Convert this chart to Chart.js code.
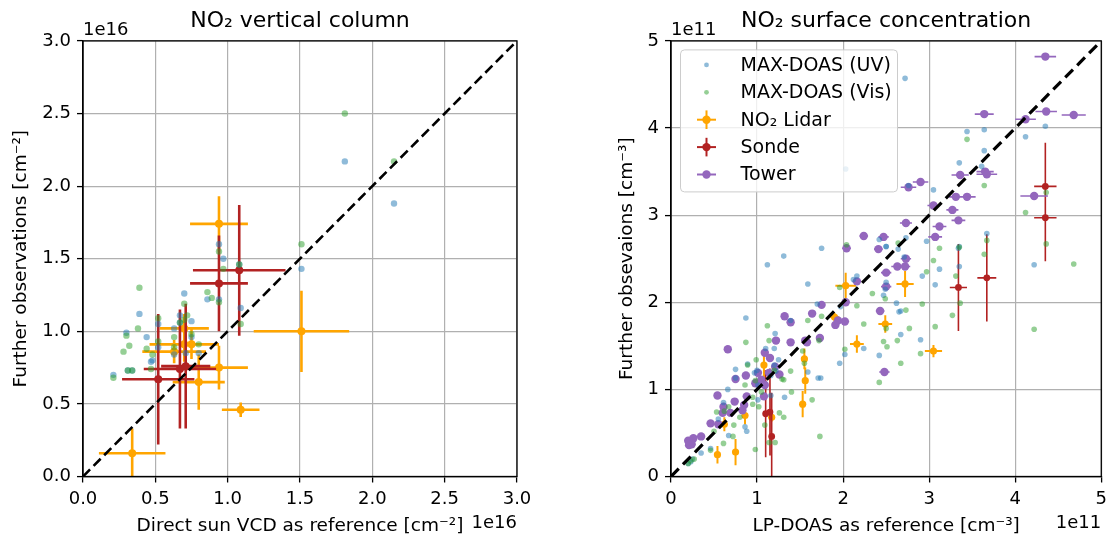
<!DOCTYPE html>
<html>
<head>
<meta charset="utf-8">
<title>NO2 comparison</title>
<script src="https://cdn.jsdelivr.net/npm/chart.js@4.4.1/dist/chart.umd.min.js"></script>
<style>
  html, body { margin: 0; padding: 0; background: #fff; }
  #wrap { position: relative; width: 1113px; height: 537px; overflow: hidden; }
  canvas { position: absolute; top: 0; }
  #vcdChart { left: 0; }
  #surfChart { left: 606px; }
</style>
</head>
<body>
<div id="wrap">
  <canvas id="vcdChart" width="560" height="537"></canvas>
  <canvas id="surfChart" width="507" height="537"></canvas>
</div>
<script>
// Left panel: vertical columns, units of 1e16 cm-2
const vcdTicks = [0, 0.5, 1.0, 1.5, 2.0, 2.5, 3.0];
const vcdUV = [
  [0.21, 0.70], [0.30, 0.99], [0.39, 1.12], [0.44, 0.96], [0.47, 0.79], [0.48, 0.80],
  [0.34, 0.73], [0.31, 0.73], [0.52, 1.05], [0.52, 0.89], [0.63, 0.84], [0.63, 1.02],
  [0.67, 1.11], [0.70, 1.26], [0.75, 1.07], [0.75, 0.96], [0.86, 1.22], [0.94, 1.60],
  [0.97, 1.50], [0.94, 1.22], [1.09, 1.16], [1.08, 1.46], [1.51, 1.43], [1.81, 2.17],
  [2.15, 1.88], [0.80, 0.85], [0.71, 0.85], [0.67, 1.06]
];
const vcdVis = [
  [0.21, 0.68], [0.30, 0.97], [0.32, 0.90], [0.28, 0.86], [0.39, 1.30], [0.38, 1.02],
  [0.34, 0.73], [0.31, 0.73], [0.44, 0.88], [0.47, 0.74], [0.48, 0.84], [0.52, 1.09],
  [0.52, 0.93], [0.63, 0.96], [0.63, 0.89], [0.70, 1.19], [0.72, 1.11], [0.75, 0.98],
  [0.80, 0.91], [0.86, 1.27], [0.89, 1.23], [0.94, 1.55], [0.94, 1.20], [0.97, 1.43],
  [1.08, 1.46], [1.09, 1.05], [1.51, 1.60], [1.81, 2.50], [2.15, 2.17], [0.67, 1.06],
  [0.70, 1.08]
];
// [x, y, xErr, yErr]
const vcdLidar = [
  [0.94, 1.74, 0.20, 0.19], [1.51, 1.00, 0.33, 0.28], [0.70, 1.02, 0.17, 0.10],
  [0.63, 0.86, 0.22, 0.08], [0.70, 0.91, 0.24, 0.12], [0.75, 0.91, 0.05, 0.10],
  [0.94, 0.75, 0.20, 0.15], [0.80, 0.65, 0.18, 0.19], [1.09, 0.46, 0.13, 0.05],
  [0.34, 0.16, 0.23, 0.17]
];
const vcdSonde = [
  [1.08, 1.42, 0.32, 0.45], [0.94, 1.33, 0.20, 0.33], [0.52, 0.67, 0.25, 0.45],
  [0.67, 0.74, 0.25, 0.41], [0.71, 0.76, 0.17, 0.43]
];

// Right panel: surface concentrations, units of 1e11 cm-3
const surfTicks = [0, 1, 2, 3, 4, 5];
const surfUV = [
  [2.72, 4.57], [2.03, 3.53], [3.44, 3.96], [3.64, 3.98], [4.12, 3.90], [4.35, 4.02],
  [3.64, 3.74], [3.35, 3.60], [3.61, 3.56], [2.76, 3.34], [3.05, 3.29], [3.34, 2.62],
  [3.67, 2.79], [2.73, 2.74], [2.97, 2.70], [2.64, 2.61], [1.75, 2.62], [1.31, 2.53],
  [1.12, 2.43], [2.50, 2.64], [3.12, 2.38], [3.35, 2.41], [2.92, 2.30], [2.12, 2.26],
  [2.16, 2.30], [2.50, 2.23], [1.59, 2.21], [4.22, 2.43], [3.07, 2.20], [2.62, 1.99],
  [2.67, 1.90], [2.90, 1.57], [2.67, 1.63], [2.42, 1.39], [2.24, 1.47], [1.96, 1.30],
  [2.02, 1.40], [0.87, 1.82], [1.21, 1.64], [1.39, 1.79], [1.10, 1.47], [1.74, 1.13],
  [1.59, 1.20], [1.32, 0.91], [1.20, 1.28], [0.66, 1.00], [0.75, 1.23], [0.89, 1.29],
  [0.97, 1.19], [1.01, 0.88], [0.88, 0.52], [0.86, 0.57], [0.67, 0.47], [0.55, 0.66],
  [0.35, 0.27], [0.25, 0.20], [0.20, 0.15], [0.46, 0.32], [1.70, 1.98], [2.42, 2.72],
  [2.47, 2.08], [2.49, 2.15], [1.20, 1.47], [1.22, 1.21], [1.16, 1.16], [1.16, 0.93],
  [0.61, 0.85], [0.75, 1.13], [1.00, 1.22], [1.01, 1.05], [2.65, 1.89], [1.97, 1.95],
  [2.50, 2.64], [0.23, 0.17], [1.25, 1.34], [3.35, 2.64], [2.71, 2.52], [1.71, 1.13]
];
const surfVis = [
  [3.44, 3.87], [3.64, 3.34], [4.12, 3.03], [4.36, 3.26], [4.36, 2.67], [4.68, 2.44],
  [4.22, 1.69], [3.67, 2.71], [3.64, 2.55], [3.36, 1.99], [3.31, 2.30], [3.12, 2.62],
  [3.05, 2.48], [3.27, 1.85], [3.07, 1.72], [2.64, 2.68], [2.04, 2.66], [2.97, 2.35],
  [2.92, 1.98], [2.90, 1.41], [2.73, 1.91], [2.77, 1.70], [2.63, 1.56], [2.67, 1.30],
  [2.51, 1.49], [2.49, 2.04], [2.34, 2.10], [2.42, 1.08], [2.16, 1.96], [2.24, 1.75],
  [1.96, 2.17], [2.02, 1.46], [1.75, 1.84], [1.64, 0.88], [1.73, 0.46], [1.53, 1.44],
  [1.59, 1.79], [1.39, 1.21], [1.31, 1.11], [1.12, 1.73], [0.87, 1.54], [0.99, 1.34],
  [0.89, 1.28], [1.09, 0.59], [0.98, 0.31], [1.26, 0.73], [1.31, 0.68], [1.21, 0.39],
  [1.14, 0.39], [0.72, 0.46], [0.61, 0.38], [0.46, 0.30], [0.62, 0.75], [0.73, 0.59],
  [0.67, 0.80], [0.27, 0.20], [0.23, 0.18], [0.20, 0.15], [0.86, 1.05], [0.53, 0.74],
  [2.50, 1.70], [2.47, 1.55], [1.55, 1.30], [1.40, 0.97], [1.05, 0.97], [0.98, 1.10],
  [1.20, 1.22], [1.02, 0.80], [0.50, 0.52], [0.80, 0.68], [1.29, 1.12], [1.72, 1.56],
  [1.14, 1.56], [0.95, 0.91], [0.95, 0.83], [3.35, 2.63]
];
const surfLidar = [
  [2.03, 2.19, 0.12, 0.15], [2.72, 2.21, 0.10, 0.15], [2.49, 1.75, 0.08, 0.10],
  [2.16, 1.52, 0.08, 0.10], [3.05, 1.44, 0.10, 0.07], [1.90, 1.83, 0.05, 0.05],
  [1.55, 1.35, 0.03, 0.12], [1.56, 1.10, 0.03, 0.15], [1.53, 0.83, 0.03, 0.15],
  [1.08, 1.28, 0.03, 0.15], [0.86, 0.70, 0.03, 0.10], [0.62, 0.60, 0.03, 0.08],
  [0.54, 0.25, 0.02, 0.10], [0.75, 0.28, 0.02, 0.15], [1.17, 0.68, 0.02, 0.05]
];
const surfSonde = [
  [4.35, 3.33, 0.13, 0.50], [4.35, 2.97, 0.13, 0.50], [3.67, 2.28, 0.11, 0.50],
  [3.34, 2.17, 0.10, 0.50], [1.10, 0.72, 0.02, 0.50], [1.15, 0.74, 0.02, 0.50],
  [1.17, 0.46, 0.02, 0.50]
];
const surfTower = [
  [4.35, 4.82, 0.125, 0], [3.64, 4.16, 0.11, 0], [4.36, 4.19, 0.125, 0], [4.68, 4.15, 0.14, 0],
  [4.12, 4.10, 0.12, 0], [3.36, 3.46, 0.10, 0], [3.65, 3.50, 0.10, 0], [3.67, 3.47, 0.12, 0],
  [2.90, 3.38, 0.09, 0], [2.76, 3.32, 0.09, 0], [3.31, 3.21, 0.08, 0], [3.44, 3.21, 0.10, 0],
  [4.22, 3.22, 0.16, 0], [3.05, 3.11, 0.07, 0], [3.27, 3.06, 0.07, 0], [3.34, 2.94, 0.08, 0],
  [2.73, 2.91, 0.07, 0], [3.12, 2.87, 0.08, 0], [2.24, 2.76, 0.05, 0], [2.47, 2.75, 0.06, 0],
  [3.07, 2.75, 0.08, 0], [2.04, 2.62, 0.05, 0], [2.41, 2.61, 0.05, 0], [2.73, 2.50, 0.06, 0],
  [2.63, 2.41, 0.07, 0], [2.72, 2.41, 0.06, 0], [2.50, 2.34, 0.06, 0], [2.16, 2.24, 0.05, 0],
  [2.50, 2.18, 0.06, 0], [1.75, 1.97, 0.03, 0], [2.03, 2.00, 0.05, 0], [2.43, 1.90, 0.05, 0],
  [1.64, 1.87, 0.03, 0], [1.32, 1.84, 0.02, 0], [1.94, 1.79, 0.04, 0], [2.02, 1.78, 0.05, 0],
  [1.91, 1.74, 0.04, 0], [1.39, 1.77, 0.02, 0], [1.22, 1.56, 0.02, 0], [1.39, 1.54, 0.02, 0],
  [1.56, 1.56, 0.03, 0], [1.58, 1.54, 0.03, 0], [1.73, 1.59, 0.03, 0], [0.66, 1.46, 0.02, 0],
  [1.09, 1.42, 0.02, 0], [1.15, 1.36, 0.02, 0], [1.21, 1.26, 0.02, 0], [1.26, 1.17, 0.02, 0],
  [1.01, 1.19, 0.02, 0], [1.14, 1.19, 0.02, 0], [0.75, 1.12, 0.02, 0], [0.87, 1.16, 0.02, 0],
  [0.98, 1.07, 0.02, 0], [1.05, 1.11, 0.02, 0], [1.09, 1.05, 0.02, 0], [1.08, 0.92, 0.02, 0],
  [2.48, 1.20, 0.06, 0], [0.54, 0.93, 0.02, 0], [0.74, 0.86, 0.02, 0], [0.88, 0.92, 0.02, 0],
  [0.85, 0.82, 0.02, 0], [0.61, 0.80, 0.02, 0], [0.69, 0.73, 0.02, 0], [0.60, 0.73, 0.02, 0],
  [0.46, 0.61, 0.02, 0], [0.55, 0.60, 0.02, 0], [0.35, 0.46, 0.02, 0], [0.26, 0.44, 0.02, 0],
  [0.20, 0.41, 0.02, 0], [0.24, 0.37, 0.02, 0], [0.21, 0.36, 0.02, 0], [0.83, 0.76, 0.02, 0]
];

const C_UV = "rgba(31, 119, 180, 0.5)";
const C_VIS = "rgba(44, 160, 44, 0.5)";
const C_LIDAR = "#ffa500";
const C_SONDE = "#b22222";
const C_TOWER = "#9467bd";
const FONT = "'DejaVu Sans', sans-serif";

Chart.defaults.font.family = FONT;
Chart.defaults.color = "#000";

const pts = (rows) => rows.map(([x, y]) => ({ x, y }));
const errs = (rows) => rows.map(([, , ex, ey]) => [ex, ey]);

// error bars drawn right before each dataset's markers
const errorBars = {
  id: "errorBars",
  beforeDatasetDraw(chart, args) {
    const ds = chart.data.datasets[args.index];
    if (!ds.errors) return;
    const { ctx, chartArea: a } = chart;
    const sx = chart.scales.x, sy = chart.scales.y;
    ctx.save();
    ctx.beginPath();
    ctx.rect(a.left, a.top, a.right - a.left, a.bottom - a.top);
    ctx.clip();
    ctx.strokeStyle = ds.backgroundColor;
    ctx.lineWidth = ds.errWidth;
    ctx.beginPath();
    ds.data.forEach((p, i) => {
      const [ex, ey] = ds.errors[i];
      const px = sx.getPixelForValue(p.x), py = sy.getPixelForValue(p.y);
      if (ex) {
        ctx.moveTo(sx.getPixelForValue(p.x - ex), py);
        ctx.lineTo(sx.getPixelForValue(p.x + ex), py);
      }
      if (ey) {
        ctx.moveTo(px, sy.getPixelForValue(p.y - ey));
        ctx.lineTo(px, sy.getPixelForValue(p.y + ey));
      }
    });
    ctx.stroke();
    ctx.restore();
  }
};

// top/right spines and the 1eN offset texts
const frame = {
  id: "frame",
  afterDatasetsDraw(chart, args, opts) {
    const { ctx, chartArea: a } = chart;
    ctx.save();
    ctx.strokeStyle = "#000";
    ctx.lineWidth = 1.3;
    ctx.strokeRect(a.left, a.top, a.right - a.left, a.bottom - a.top);
    ctx.fillStyle = "#000";
    ctx.font = "18px " + FONT;
    ctx.textBaseline = "alphabetic";
    ctx.textAlign = "left";
    ctx.fillText(opts.offset, a.left, a.top - 6);
    ctx.textAlign = "right";
    ctx.fillText(opts.offset, a.right, 528);
    ctx.restore();
  }
};

// matplotlib-like legend in the upper left corner of the plot
const boxLegend = {
  id: "boxLegend",
  afterDraw(chart, args, opts) {
    if (!opts.items) return;
    const { ctx, chartArea: a } = chart;
    const x0 = a.left + 9.5, y0 = a.top + 9, w = 217, h = 142, r = 4;
    ctx.save();
    ctx.beginPath();
    ctx.roundRect(x0, y0, w, h, r);
    ctx.fillStyle = "rgba(255,255,255,0.8)";
    ctx.fill();
    ctx.strokeStyle = "#cccccc";
    ctx.lineWidth = 1;
    ctx.stroke();
    opts.items.forEach((it, i) => {
      const cy = y0 + 15 + i * 27.4;
      const mx = x0 + 26;
      ctx.strokeStyle = it.color;
      ctx.fillStyle = it.color;
      ctx.lineWidth = 2;
      if (it.h) {
        ctx.beginPath(); ctx.moveTo(mx - 9.5, cy); ctx.lineTo(mx + 9.5, cy); ctx.stroke();
      }
      if (it.v) {
        ctx.beginPath(); ctx.moveTo(mx, cy - 9.3); ctx.lineTo(mx, cy + 9.3); ctx.stroke();
      }
      ctx.beginPath();
      ctx.arc(mx, cy, it.r, 0, Math.PI * 2);
      ctx.fill();
      ctx.fillStyle = "#000";
      ctx.font = "19px " + FONT;
      ctx.textAlign = "left";
      ctx.textBaseline = "middle";
      ctx.fillText(it.label, x0 + 60, cy + 1);
    });
    ctx.restore();
  }
};

function axis(ticks, fmt, title, titlePad, fit) {
  return {
    type: "linear",
    min: ticks[0],
    max: ticks[ticks.length - 1],
    afterBuildTicks: (s) => { s.ticks = ticks.map((v) => ({ value: v })); },
    afterFit: fit,
    ticks: { callback: fmt, font: { size: 18 }, color: "#000", padding: 6, maxRotation: 0, autoSkip: false },
    grid: { color: "#b0b0b0", lineWidth: 1.2, drawTicks: true, tickLength: 6, tickColor: "#000", tickWidth: 1.3 },
    border: { display: true, color: "#000", width: 1.3 },
    title: { display: true, text: title, font: { size: 18.5 }, color: "#000", padding: titlePad }
  };
}

function scatterSet(label, rows, color, radius, order) {
  return { label, data: pts(rows), backgroundColor: color, pointRadius: radius, pointBorderWidth: 0, order };
}
function errSet(label, rows, color, radius, width, order) {
  return {
    label, data: pts(rows), errors: errs(rows), errWidth: width,
    backgroundColor: color, pointRadius: radius, pointBorderWidth: 0, order
  };
}
function diagSet(ticks, width, dash) {
  const lo = ticks[0], hi = ticks[ticks.length - 1];
  return {
    label: "1:1", data: [{ x: lo, y: lo }, { x: hi, y: hi }], showLine: true,
    borderColor: "#000", borderWidth: width, borderDash: dash, pointRadius: 0, order: 0
  };
}

function makeChart(id, title, datasets, ticks, fmt, xTitle, yTitle, yWidth, yPad, padRight, offset, legendItems) {
  return new Chart(document.getElementById(id), {
    type: "scatter",
    data: { datasets },
    options: {
      responsive: false,
      animation: false,
      events: [],
      layout: { padding: { left: 0, right: padRight, top: 0, bottom: 0 } },
      plugins: {
        legend: { display: false },
        tooltip: { enabled: false },
        title: {
          display: true, text: title, fullSize: false, color: "#000",
          font: { size: 22, weight: "normal" }, padding: { top: 8.5, bottom: 6 }
        },
        frame: { offset },
        boxLegend: { items: legendItems }
      },
      scales: {
        x: axis(ticks, fmt, xTitle, { top: 0, bottom: 0 }, (s) => { s.height = 60.5; }),
        y: axis(ticks, fmt, yTitle, { top: yPad, bottom: 0 }, (s) => { s.width = yWidth; })
      }
    },
    plugins: [errorBars, frame, boxLegend]
  });
}

makeChart(
  "vcdChart", "NO₂ vertical column",
  [
    diagSet(vcdTicks, 2.6, [10, 5]),
    scatterSet("MAX-DOAS (UV)", vcdUV, C_UV, 3.2, 2),
    scatterSet("MAX-DOAS (Vis)", vcdVis, C_VIS, 3.2, 1),
    errSet("NO₂ Lidar", vcdLidar, C_LIDAR, 4, 2.6, 4),
    errSet("Sonde", vcdSonde, C_SONDE, 4, 2.6, 3)
  ],
  vcdTicks, (v) => v.toFixed(1),
  "Direct sun VCD as reference [cm⁻²]", "Further observations [cm⁻²]",
  83, 10, 43, "1e16", null
);

makeChart(
  "surfChart", "NO₂ surface concentration",
  [
    diagSet(surfTicks, 3.2, [11, 6]),
    scatterSet("MAX-DOAS (UV)", surfUV, C_UV, 2.8, 2),
    scatterSet("MAX-DOAS (Vis)", surfVis, C_VIS, 2.8, 1),
    errSet("NO₂ Lidar", surfLidar, C_LIDAR, 3.6, 2, 5),
    errSet("Sonde", surfSonde, C_SONDE, 3.4, 1.6, 4),
    errSet("Tower", surfTower, C_TOWER, 4.2, 1.6, 3)
  ],
  surfTicks, (v) => String(v),
  "LP-DOAS as reference [cm⁻³]", "Further obsevaions [cm⁻³]",
  65, 10, 7, "1e11",
  [
    { label: "MAX-DOAS (UV)", color: C_UV, r: 2.4 },
    { label: "MAX-DOAS (Vis)", color: C_VIS, r: 2.4 },
    { label: "NO₂ Lidar", color: C_LIDAR, r: 4.2, h: true, v: true },
    { label: "Sonde", color: C_SONDE, r: 4.2, h: true, v: true },
    { label: "Tower", color: C_TOWER, r: 4.2, h: true }
  ]
);
</script>
</body>
</html>
